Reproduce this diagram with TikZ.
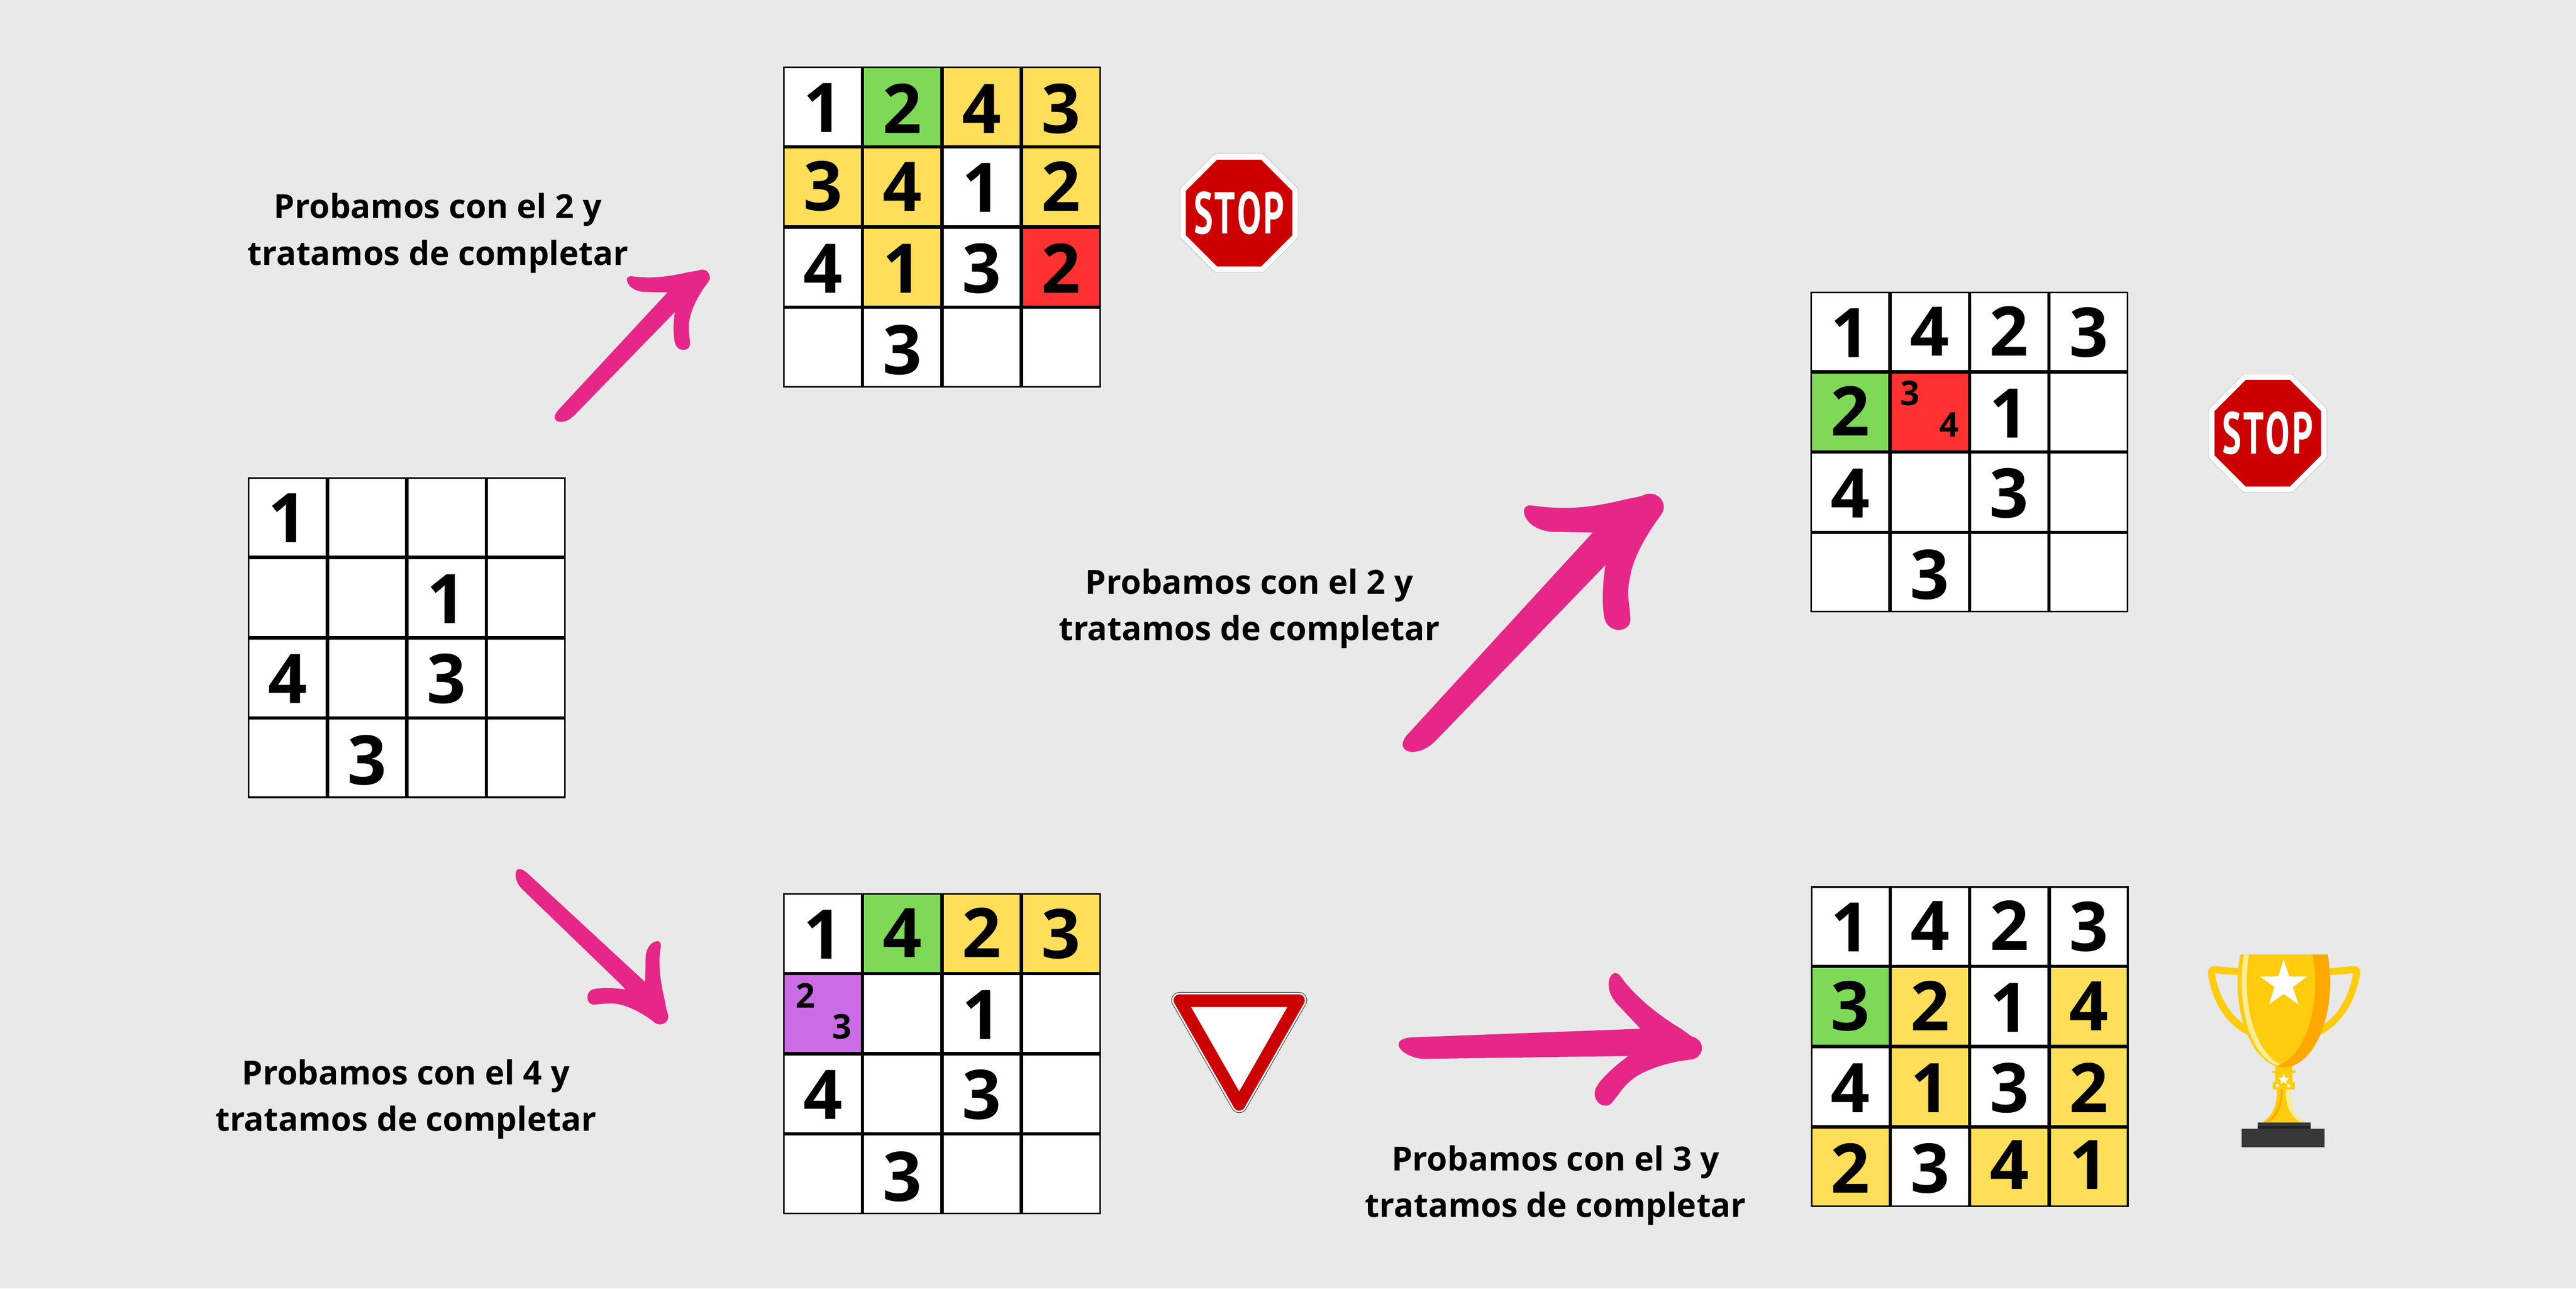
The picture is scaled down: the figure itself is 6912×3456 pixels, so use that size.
\documentclass[tikz,border=0pt]{standalone}
\usepackage{fontspec}
\setmainfont{Open Sans}
\newfontfamily\stopfont{PT Sans}
\definecolor{bgc}{HTML}{E9E9E9}
\definecolor{cgreen}{HTML}{7ED957}
\definecolor{cyellow}{HTML}{FFDE59}
\definecolor{cred}{HTML}{FF3131}
\definecolor{cpurple}{HTML}{CB6CE6}
\definecolor{cpink}{HTML}{E62788}
\definecolor{signred}{HTML}{CC0000}
\definecolor{tyellow}{HTML}{FFCC0E}
\definecolor{torange}{HTML}{FFA800}
\definecolor{tlight}{HTML}{FBEC97}
\definecolor{tdark}{HTML}{383838}
\definecolor{tdarker}{HTML}{222222}
\tikzset{
  cellbox/.style={draw=black,line width=0.045cm,minimum width=2.0875cm,minimum height=2.107cm,inner sep=0pt,outer sep=0pt,rectangle},
  digitbig/.style={inner sep=0pt,outer sep=0pt,font=\bfseries\fontsize{52.2}{52.2}\selectfont,anchor=base},
  digitsmall/.style={inner sep=0pt,outer sep=0pt,font=\bfseries\fontsize{25.9}{25.9}\selectfont,anchor=base},
  labeltxt/.style={inner sep=0pt,outer sep=0pt,align=center,font=\bfseries\fontsize{25.3}{35.6}\selectfont},
  brush/.style={fill=cpink,draw=none}
}
\newcommand{\gridcell}[5]{%
  \pgfmathsetmacro\cxx{\gridX+(#1+.5)*213.25}%
  \pgfmathsetmacro\cyy{\gridY+(#2+.5)*215.2}%
  \node[cellbox,fill=#3] (\gridN-#1-#2) at (\cxx,\cyy) {};%
  \if\relax#4\relax\else\node[digitbig] (\gridN-d-#1-#2) at (\cxx,\cyy+#5) {#4};\fi
}
\newcommand{\stopsign}[3]{%
  \begin{scope}[shift={(#2,#3)}]
    \filldraw[draw=gray!70,fill=gray!70,line width=0.17cm,line join=round]
      (-62.3,-150.5)--(62.3,-150.5)--(150.5,-62.3)--(150.5,62.3)--(62.3,150.5)--(-62.3,150.5)--(-150.5,62.3)--(-150.5,-62.3)--cycle;
    \filldraw[draw=white,fill=white,line width=0.155cm,line join=round]
      (-62.3,-150.5)--(62.3,-150.5)--(150.5,-62.3)--(150.5,62.3)--(62.3,150.5)--(-62.3,150.5)--(-150.5,62.3)--(-150.5,-62.3)--cycle;
    \fill[signred] (-59.2,-143)--(59.2,-143)--(143,-59.2)--(143,59.2)--(59.2,143)--(-59.2,143)--(-143,59.2)--(-143,-59.2)--cycle;
    \node[inner sep=0pt,outer sep=0pt,text=white] (#1) at (0,0) {\resizebox{2.43cm}{1.13cm}{\stopfont\bfseries S\kern0.05em T\kern0.05em O\kern0.07em P}};
  \end{scope}
}
\begin{document}
\begin{tikzpicture}[x=0.01cm,y=-0.01cm]
\useasboundingbox (0,0) rectangle (6912,3456);
\fill[bgc] (0,0) rectangle (6912,3456);

% grid 1
\def\gridX{665}\def\gridY{1280}\def\gridN{a}
\gridcell{0}{0}{white}{1}{68}\gridcell{1}{0}{white}{}{0}\gridcell{2}{0}{white}{}{0}\gridcell{3}{0}{white}{}{0}
\gridcell{0}{1}{white}{}{0}\gridcell{1}{1}{white}{}{0}\gridcell{2}{1}{white}{1}{69}\gridcell{3}{1}{white}{}{0}
\gridcell{0}{2}{white}{4}{68.6}\gridcell{1}{2}{white}{}{0}\gridcell{2}{2}{white}{3}{68.6}\gridcell{3}{2}{white}{}{0}
\gridcell{0}{3}{white}{}{0}\gridcell{1}{3}{white}{3}{72}\gridcell{2}{3}{white}{}{0}\gridcell{3}{3}{white}{}{0}

% grid 2
\def\gridX{2101}\def\gridY{178.4}\def\gridN{b}
\gridcell{0}{0}{white}{1}{68.6}\gridcell{1}{0}{cgreen}{2}{71.4}\gridcell{2}{0}{cyellow}{4}{71.4}\gridcell{3}{0}{cyellow}{3}{71.4}
\gridcell{0}{1}{cyellow}{3}{64}\gridcell{1}{1}{cyellow}{4}{64.4}\gridcell{2}{1}{white}{1}{68.3}\gridcell{3}{1}{cyellow}{2}{64.4}
\gridcell{0}{2}{white}{4}{69}\gridcell{1}{2}{cyellow}{1}{69}\gridcell{2}{2}{white}{3}{69}\gridcell{3}{2}{cred}{2}{69}
\gridcell{0}{3}{white}{}{0}\gridcell{1}{3}{white}{3}{72}\gridcell{2}{3}{white}{}{0}\gridcell{3}{3}{white}{}{0}

% grid 3
\def\gridX{4858}\def\gridY{782}\def\gridN{c}
\gridcell{0}{0}{white}{1}{69}\gridcell{1}{0}{white}{4}{65}\gridcell{2}{0}{white}{2}{65}\gridcell{3}{0}{white}{3}{67}
\gridcell{0}{1}{cgreen}{2}{64}\gridcell{1}{1}{cred}{}{0}\gridcell{2}{1}{white}{1}{69}\gridcell{3}{1}{white}{}{0}
\gridcell{0}{2}{white}{4}{68}\gridcell{1}{2}{white}{}{0}\gridcell{2}{2}{white}{3}{68}\gridcell{3}{2}{white}{}{0}
\gridcell{0}{3}{white}{}{0}\gridcell{1}{3}{white}{3}{72}\gridcell{2}{3}{white}{}{0}\gridcell{3}{3}{white}{}{0}
\node[digitsmall] (c-s3) at (5125.5,1087.7) {3};
\node[digitsmall] (c-s4) at (5230,1171.7) {4};

% grid 4
\def\gridX{2101}\def\gridY{2396}\def\gridN{d}
\gridcell{0}{0}{white}{1}{68.4}\gridcell{1}{0}{cgreen}{4}{64.4}\gridcell{2}{0}{cyellow}{2}{64.4}\gridcell{3}{0}{cyellow}{3}{67}
\gridcell{0}{1}{cpurple}{}{0}\gridcell{1}{1}{white}{}{0}\gridcell{2}{1}{white}{1}{69}\gridcell{3}{1}{white}{}{0}
\gridcell{0}{2}{white}{4}{68}\gridcell{1}{2}{white}{}{0}\gridcell{2}{2}{white}{3}{68}\gridcell{3}{2}{white}{}{0}
\gridcell{0}{3}{white}{}{0}\gridcell{1}{3}{white}{3}{72}\gridcell{2}{3}{white}{}{0}\gridcell{3}{3}{white}{}{0}
\node[digitsmall] (d-s2) at (2161,2703.3) {2};
\node[digitsmall] (d-s3) at (2259.2,2786.7) {3};

% grid 5
\def\gridX{4858.5}\def\gridY{2376.7}\def\gridN{e}
\gridcell{0}{0}{white}{1}{68.6}\gridcell{1}{0}{white}{4}{64}\gridcell{2}{0}{white}{2}{64}\gridcell{3}{0}{white}{3}{67.5}
\gridcell{0}{1}{cgreen}{3}{64.4}\gridcell{1}{1}{cyellow}{2}{65}\gridcell{2}{1}{white}{1}{69}\gridcell{3}{1}{cyellow}{4}{65}
\gridcell{0}{2}{white}{4}{68.6}\gridcell{1}{2}{cyellow}{1}{68.6}\gridcell{2}{2}{white}{3}{68.6}\gridcell{3}{2}{cyellow}{2}{68.6}
\gridcell{0}{3}{cyellow}{2}{69.5}\gridcell{1}{3}{white}{3}{69}\gridcell{2}{3}{cyellow}{4}{59.4}\gridcell{3}{3}{cyellow}{1}{59.4}

% labels
\node[labeltxt] (t1) at (1175,625) {Probamos con el 2 y\\tratamos de completar};
\node[labeltxt] (t2) at (3352,1632) {Probamos con el 2 y\\tratamos de completar};
\node[labeltxt] (t3) at (1089,2948) {Probamos con el 4 y\\tratamos de completar};
\node[labeltxt] (t4) at (4174,3179) {Probamos con el 3 y\\tratamos de completar};

% brush arrow to grid 2
\begin{scope}[shift={(1300,650)},xscale=0.4464,yscale=0.3333]
\fill[brush] (450,1340) -- (1100,403) -- (965,399) .. controls (900,397) and (855,345) .. (856,298) .. controls (856,278) and (872,270) .. (890,274) .. controls (1010,295) and (1110,275) .. (1225,240) .. controls (1250,233) and (1275,232) .. (1285,226) .. controls (1320,205) and (1355,235) .. (1355,285) .. controls (1355,300) and (1348,312) .. (1340,328) .. controls (1270,450) and (1225,590) .. (1228,690) .. controls (1229,730) and (1233,770) .. (1235,810) .. controls (1237,845) and (1220,865) .. (1195,865) .. controls (1165,865) and (1148,835) .. (1143,800) .. controls (1133,720) and (1135,640) .. (1145,560) -- (545,1385) .. controls (515,1425) and (490,1445) .. (458,1445) .. controls (430,1445) and (415,1420) .. (423,1395) .. controls (428,1375) and (438,1358) .. (450,1340) -- cycle;
\end{scope}

% brush arrow to grid 3
\begin{scope}[shift={(3700,1250)},xscale=0.5420,yscale=0.5128]
\fill[brush] (145,1400) -- (1058,348) -- (860,344) .. controls (780,340) and (718,290) .. (718,235) .. controls (718,212) and (735,203) .. (755,206) .. controls (860,222) and (960,225) .. (1080,205) .. controls (1140,195) and (1190,182) .. (1230,172) .. controls (1265,165) and (1295,160) .. (1315,150) .. controls (1360,130) and (1410,165) .. (1410,215) .. controls (1410,235) and (1400,250) .. (1385,272) .. controls (1320,365) and (1260,480) .. (1245,570) .. controls (1230,640) and (1232,680) .. (1238,720) .. controls (1240,745) and (1243,770) .. (1245,800) .. controls (1245,835) and (1220,857) .. (1187,857) .. controls (1150,857) and (1122,830) .. (1115,790) .. controls (1103,710) and (1108,610) .. (1121,518) -- (285,1432) .. controls (245,1475) and (205,1495) .. (165,1495) .. controls (125,1495) and (108,1465) .. (122,1435) .. controls (128,1420) and (135,1410) .. (145,1400) -- cycle;
\end{scope}

% brush arrow to grid 4
\begin{scope}[shift={(1300,2280)},xscale=0.3827,yscale=0.3333]
\fill[brush] (260,310) -- (950,1075) -- (988,1122) .. controls (920,1110) and (840,1105) .. (775,1117) .. controls (735,1122) and (722,1160) .. (722,1185) .. controls (722,1220) and (740,1245) .. (770,1243) .. controls (810,1240) and (860,1232) .. (900,1234) .. controls (990,1240) and (1110,1310) .. (1195,1390) .. controls (1220,1408) and (1245,1408) .. (1265,1390) .. controls (1290,1370) and (1295,1340) .. (1280,1300) .. controls (1272,1270) and (1270,1240) .. (1262,1200) .. controls (1230,1040) and (1220,920) .. (1232,810) .. controls (1238,770) and (1242,735) .. (1212,733) .. controls (1170,735) and (1130,790) .. (1130,870) -- (1126,1062) -- (300,185) .. controls (280,165) and (260,152) .. (245,152) .. controls (225,152) and (218,170) .. (218,200) .. controls (218,240) and (235,280) .. (260,310) -- cycle;
\end{scope}

% brush arrow to grid 5
\begin{scope}[shift={(3700,2550)},xscale=0.6061,yscale=0.3333]
\fill[brush] (150,697) -- (1158,628) -- (1050,420) .. controls (1025,365) and (1017,320) .. (1017,270) .. controls (1017,215) and (1032,180) .. (1046,180) .. controls (1058,180) and (1065,195) .. (1072,212) .. controls (1130,360) and (1230,510) .. (1330,620) .. controls (1350,642) and (1365,665) .. (1383,688) .. controls (1415,705) and (1430,740) .. (1430,785) .. controls (1430,820) and (1415,865) .. (1385,875) .. controls (1300,890) and (1230,930) .. (1170,980) .. controls (1120,1025) and (1090,1080) .. (1065,1145) .. controls (1055,1170) and (1045,1190) .. (1035,1215) .. controls (1025,1238) and (1015,1247) .. (1003,1247) .. controls (975,1247) and (955,1200) .. (955,1150) .. controls (955,1120) and (962,1095) .. (972,1070) .. controls (1000,1000) and (1050,920) .. (1104,847) -- (200,870) .. controls (150,870) and (87,810) .. (87,755) .. controls (87,720) and (110,700) .. (150,697) -- cycle;
\end{scope}

% stop signs
\stopsign{stopa}{3324.7}{571.5}
\stopsign{stopb}{6085}{1162}

% yield sign
\filldraw[draw=tdarker,fill=tdarker,line width=0.44cm,line join=round] (3165,2683)--(3485,2683)--(3325,2963)--cycle;
\filldraw[draw=white,fill=white,line width=0.41cm,line join=round] (3165,2683)--(3485,2683)--(3325,2963)--cycle;
\filldraw[draw=signred,fill=signred,line width=0.32cm,line join=round] (3165,2683)--(3485,2683)--(3325,2963)--cycle;
\fill[white] (3196,2701)--(3454,2701)--(3325,2927)--cycle;

% trophy
\begin{scope}[shift={(5800,2478)},xscale=0.3827,yscale=0.4167]
\fill[tyellow] (538,285) -- (372,272) .. controls (345,270) and (322,292) .. (324,318) .. controls (350,490) and (450,650) .. (605,715) -- (575,643) .. controls (470,575) and (395,450) .. (373,318) -- (534,330) -- cycle;
\fill[tyellow] (1178,285) -- (1350,271) .. controls (1375,270) and (1395,290) .. (1393,310) .. controls (1370,480) and (1270,640) .. (1112,716) -- (1140,645) .. controls (1245,580) and (1320,450) .. (1342,318) -- (1180,330) -- cycle;
\fill[tyellow] (797,900) -- (916,900) -- (916,946) -- (939,946) -- (939,959) -- (916,959) -- (918,1020) -- (934,1020) -- (934,1065) -- (779,1065) -- (779,1020) -- (795,1020) -- (796,959) -- (774,959) -- (774,946) -- (797,946) -- cycle;
\fill[tyellow] (809,1065) .. controls (812,1160) and (780,1240) .. (705,1277) -- (1005,1277) .. controls (930,1240) and (900,1160) .. (903,1065) -- cycle;
\fill[tlight] (870,1065) -- (903,1065) .. controls (900,1160) and (930,1240) .. (1005,1277) -- (973,1277) .. controls (900,1240) and (867,1160) .. (870,1065) -- cycle;
\fill[torange] (836,1065) -- (848,1065) .. controls (850,1160) and (815,1250) .. (740,1277) -- (725,1277) .. controls (800,1240) and (838,1160) .. (836,1065) -- cycle;
\fill[tyellow] (550,197) .. controls (538,260) and (533,320) .. (533,380) .. controls (533,680) and (680,923) .. (857,923) .. controls (1034,923) and (1181,680) .. (1181,380) .. controls (1181,320) and (1176,260) .. (1165,197) -- cycle;
\fill[torange] (1060,197) -- (1165,197) .. controls (1176,260) and (1181,320) .. (1181,380) .. controls (1181,680) and (1034,923) .. (857,923) .. controls (840,923) and (825,920) .. (808,914) .. controls (970,870) and (1077,640) .. (1077,375) .. controls (1077,310) and (1072,255) .. (1060,197) -- cycle;
\fill[tlight] (578,197) -- (613,197) .. controls (603,255) and (597,310) .. (597,375) .. controls (597,640) and (700,850) .. (835,904) -- (815,912) .. controls (660,870) and (561,640) .. (561,375) .. controls (561,310) and (566,255) .. (578,197) -- cycle;
\fill[white] (856,228) -- (895,338) -- (1022,339) -- (920,407) -- (959,518) -- (856,451) -- (753,518) -- (792,407) -- (690,339) -- (817,338) -- cycle;
\fill[white] (856,965) -- (866,990) -- (895,990) -- (872,1013) -- (880,1032) -- (856,1017) -- (832,1032) -- (840,1013) -- (817,990) -- (847,990) -- cycle;
\fill[white] (812,1025) -- (816,1036) -- (829,1036) -- (819,1043) -- (823,1055) -- (812,1048) -- (801,1055) -- (805,1043) -- (795,1036) -- (808,1036) -- cycle;
\fill[white] (891,1025) -- (895,1036) -- (908,1036) -- (898,1043) -- (902,1055) -- (891,1048) -- (880,1055) -- (884,1043) -- (874,1036) -- (887,1036) -- cycle;
\fill[tdark] (673,1277) rectangle (1045,1303);
\fill[tdarker] (673,1303) rectangle (1045,1320);
\fill[tdark] (561,1319) rectangle (1141,1437);
\end{scope}
\end{tikzpicture}
\end{document}
